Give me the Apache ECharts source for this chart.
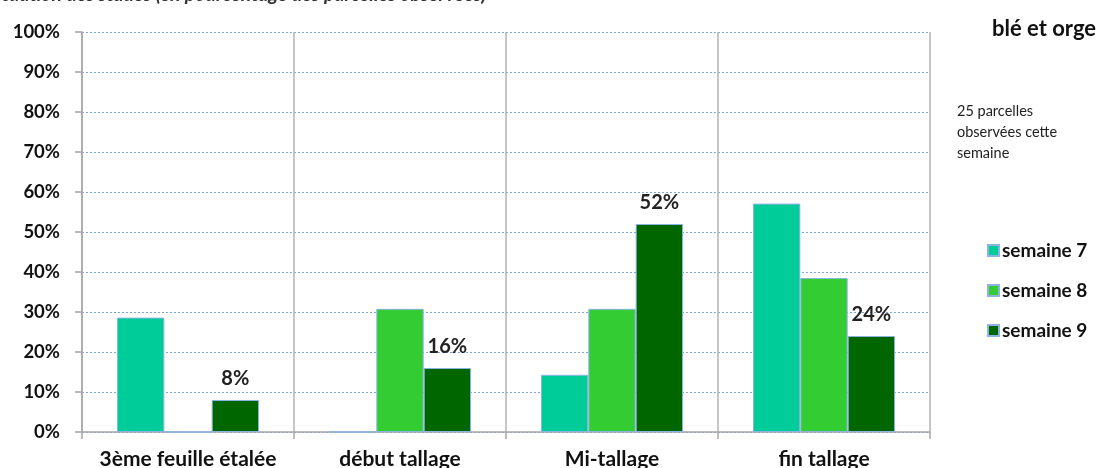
<!DOCTYPE html>
<html><head><meta charset="utf-8">
<script src="https://cdn.jsdelivr.net/npm/echarts@6/dist/echarts.min.js"></script>
<style>html,body{margin:0;padding:0;background:#fff}#c{width:1107px;height:468px}</style>
</head><body><div id="c"></div>
<script>
const categories = ['3ème feuille étalée', 'début tallage', 'Mi-tallage', 'fin tallage'];
const seriesNames = ['semaine 7', 'semaine 8', 'semaine 9'];
const semaine7 = [28.6, 0, 14.3, 57.1];
const semaine8 = [0, 30.8, 30.8, 38.5];
const semaine9 = [8, 16, 52, 24];
const yTicks = [0, 10, 20, 30, 40, 50, 60, 70, 80, 90, 100];
const colors = ['#00CC99', '#33CC33', '#006600'];
const FONT = 'Lato, "Open Sans", sans-serif';

const chart = echarts.init(document.getElementById('c'), null, {renderer: 'canvas'});
const values = [semaine7, semaine8, semaine9];
chart.setOption({
  animation: false,
  textStyle: {fontFamily: FONT},
  grid: {left: 82, right: 177, top: 32, bottom: 36, containLabel: false, outerBoundsMode: 'none'},
  legend: {
    orient: 'vertical', left: 982, top: 236, itemGap: 21,
    itemWidth: 11, itemHeight: 11, icon: 'rect',
    textStyle: {fontFamily: FONT, fontWeight: 'bold', fontSize: 19, color: '#111', padding: [0, 0, 0, -2]},
    data: seriesNames
  },
  graphic: [
    {type: 'text', left: -13, top: -15, style: {text: 'Situation des stades (en pourcentage des parcelles observées)', font: 'italic bold 19.5px ' + FONT, fill: '#333'}},
    {type: 'text', left: 992, top: 18, style: {text: 'blé et orge', font: 'bold 22px ' + FONT, fill: '#111'}},
    {type: 'text', left: 957, top: 101, style: {text: '25 parcelles\nobservées cette\nsemaine', font: '14.5px ' + FONT, fill: '#222', lineHeight: 21}}
  ],
  xAxis: {
    type: 'category', data: categories, boundaryGap: true,
    axisLine: {lineStyle: {color: '#a6a6a6', width: 1.5}},
    axisTick: {show: true, length: 7, interval: 0, lineStyle: {color: '#a6a6a6', width: 1.5}},
    splitLine: {show: true, interval: 0, lineStyle: {color: '#b3b3b3', width: 1.5}},
    axisLabel: {interval: 0, margin: 17, fontFamily: FONT, fontWeight: 'bold', fontSize: 21, color: '#111'}
  },
  yAxis: {
    type: 'value', min: 0, max: 100, interval: 10,
    axisLine: {show: true, lineStyle: {color: '#a6a6a6', width: 1.5}},
    axisTick: {show: true, length: 7, lineStyle: {color: '#a6a6a6', width: 1.5}},
    splitLine: {show: true, lineStyle: {color: '#7ea6dc', type: [2, 2], width: 1}},
    axisLabel: {margin: 22, fontFamily: FONT, fontWeight: 'bold', fontSize: 18.5, color: '#111',
      formatter: v => yTicks.includes(v) ? v + '%' : ''}
  },
  series: seriesNames.map((name, i) => ({
    name, type: 'bar', data: values[i],
    barGap: '0%', barCategoryGap: '33%',
    itemStyle: {color: colors[i], borderColor: '#8db3e2', borderWidth: 1},
    label: i === 2 ? {show: true, position: 'top', distance: 11, formatter: p => p.value + '%',
      fontFamily: FONT, fontWeight: 'bold', fontSize: 20, color: '#222'} : {show: false}
  }))
});
</script></body></html>
